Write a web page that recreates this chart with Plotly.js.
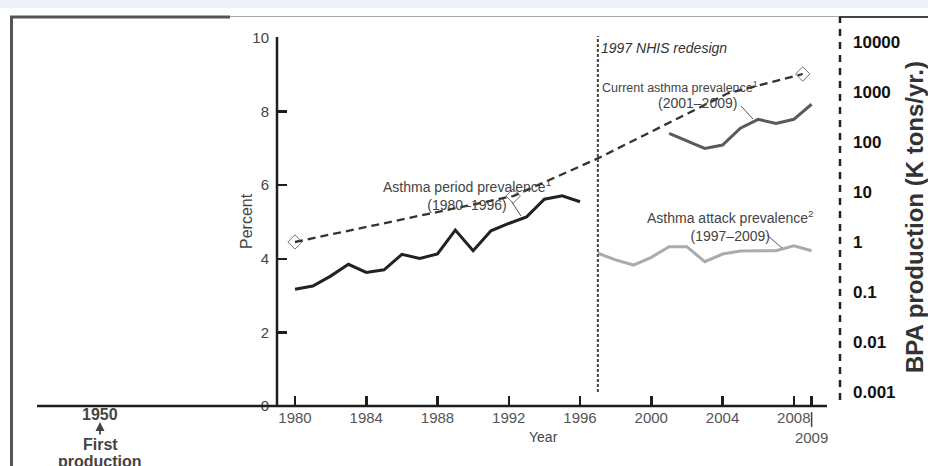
<!DOCTYPE html>
<html>
<head>
<meta charset="utf-8">
<script src="https://cdn.plot.ly/plotly-3.0.1.min.js"></script>
<style>
  html, body { margin: 0; padding: 0; background: #ffffff; }
  #chart { width: 928px; height: 466px; }
</style>
</head>
<body>
<div id="chart"></div>
<script>
// ---- data ----
const periodYears = [1980,1981,1982,1983,1984,1985,1986,1987,1988,1989,1990,1991,1992,1993,1994,1995,1996];
const periodPrev  = [3.17,3.26,3.53,3.85,3.63,3.70,4.12,4.01,4.13,4.78,4.22,4.76,4.96,5.14,5.62,5.71,5.55];

const currentYears = [2001,2002,2003,2004,2005,2006,2007,2008,2009];
const currentPrev  = [7.41,7.20,7.00,7.09,7.55,7.79,7.68,7.79,8.20];

const attackYears = [1997,1998,1999,2000,2001,2002,2003,2004,2005,2006,2007,2008,2009];
const attackPrev  = [4.15,3.97,3.83,4.04,4.33,4.33,3.92,4.13,4.21,4.21,4.22,4.35,4.22];

const bpaYears  = [1980, 1992.25, 1997, 2004.3, 2008.5];
const bpaKtons  = [1.0, 8.3, 47, 940, 2290];
const bpaDiamond = [true, true, false, false, true];

const xTickVals = [1980,1984,1988,1992,1996,2000,2004,2008,2009];
const xTickText = ['1980','1984','1988','1992','1996','2000','2004','2008','<br>2009'];
const yTickVals = [0,2,4,6,8,10];
const y2TickVals = [0.001,0.01,0.1,1,10,100,1000,10000];
const y2TickText = ['0.001','0.01','0.1','1','10','100','1000','10000'];

// ---- geometry helpers (page pixels -> paper) ----
const W = 928, H = 466;
const px = v => v / W;
const py = v => 1 - v / H;
const FONT = 'Liberation Sans, Arial, sans-serif';

const traces = [
  {x: periodYears, y: periodPrev, type: 'scatter', mode: 'lines',
   line: {color: '#222222', width: 3}},
  {x: currentYears, y: currentPrev, type: 'scatter', mode: 'lines',
   line: {color: '#5a5a5a', width: 3}},
  {x: attackYears, y: attackPrev, type: 'scatter', mode: 'lines',
   line: {color: '#ababab', width: 3}},
  {x: bpaYears, y: bpaKtons, yaxis: 'y2', type: 'scatter', mode: 'lines+markers',
   line: {color: '#333333', width: 2.3, dash: '8px,5px'},
   marker: {symbol: 'diamond-open', size: bpaDiamond.map(d => d ? 11 : 0),
            color: '#333333', line: {width: 1, color: '#333333'}}}
];

const shapes = [
  {type:'rect', xref:'paper', yref:'paper', x0:0, x1:1, y0:py(8), y1:1,
   fillcolor:'#edf1f5', line:{width:0}, layer:'below'},
  {type:'line', xref:'paper', yref:'paper', x0:px(230), x1:px(839), y0:py(16.5), y1:py(16.5),
   line:{color:'#aaaaaa', width:1}},
  {type:'line', xref:'paper', yref:'paper', x0:px(10), x1:px(230), y0:py(17), y1:py(17),
   line:{color:'#555555', width:3}},
  {type:'line', xref:'paper', yref:'paper', x0:px(839), x1:1, y0:py(17), y1:py(17),
   line:{color:'#444444', width:2}},
  {type:'line', xref:'paper', yref:'paper', x0:px(11.5), x1:px(11.5), y0:py(16), y1:0,
   line:{color:'#555555', width:3}},
  {type:'line', xref:'paper', yref:'paper', x0:px(37), x1:px(827), y0:py(406), y1:py(406),
   line:{color:'#1e1e1e', width:2.5}},
  {type:'line', xref:'paper', yref:'paper', x0:px(277), x1:px(277), y0:py(406), y1:py(37),
   line:{color:'#1e1e1e', width:2.5}},
  {type:'line', xref:'x', yref:'paper', x0:1997, x1:1997, y0:py(392), y1:py(36),
   line:{color:'#444444', width:2, dash:'3px,2px'}},
  {type:'line', xref:'paper', yref:'paper', x0:px(840), x1:px(840), y0:py(400), y1:py(17),
   line:{color:'#222222', width:2.5, dash:'7px,6px'}},
  {type:'line', xref:'x', yref:'paper', x0:2009, x1:2009, y0:py(427), y1:py(412),
   line:{color:'#444444', width:1.5}},
  {type:'line', xref:'paper', yref:'paper', x0:px(511.5), x1:px(521), y0:py(201.5), y1:py(216),
   line:{color:'#555555', width:1}},
  {type:'line', xref:'paper', yref:'paper', x0:px(741), x1:px(753), y0:py(106), y1:py(119),
   line:{color:'#555555', width:1}},
  {type:'line', xref:'paper', yref:'paper', x0:px(767), x1:px(782), y0:py(235), y1:py(248),
   line:{color:'#555555', width:1}}
];

function ann(text, x, y, opts) {
  return Object.assign({text: text, xref:'paper', yref:'paper', x: px(x), y: py(y),
    xanchor:'center', yanchor:'middle', showarrow:false,
    font:{family: FONT, size: 14, color:'#444444'}}, opts || {});
}
const boldLeft = {family: FONT, size: 16, color:'#444444', weight:'bold'};

const annotations = [
  ann('Asthma period prevalence<sup>1</sup><br>(1980–1996)', 467, 195),
  ann('Current asthma prevalence<sup>1</sup>', 680, 87, {font:{family: FONT, size: 12.5, color:'#444444'}}),
  ann('(2001–2009)', 697, 103),
  ann('Asthma attack prevalence<sup>2</sup><br>(1997–2009)', 730, 226),
  ann('1997 NHIS redesign', 664, 47.5, {font:{family: FONT, size: 14, color:'#333333', style:'italic'}}),
  ann('Year', 543, 437, {font:{family: FONT, size: 14, color:'#444444'}}),
  ann('Percent', 247, 221, {textangle: -90, font:{family: FONT, size: 16, color:'#444444'}}),
  ann('BPA production (K tons/yr.)', 914, 217, {textangle: -90,
      font:{family: FONT, size: 24, color:'#333333', weight:'bold'}}),
  ann('1950', 100, 414, {font: boldLeft}),
  {text:'', xref:'paper', yref:'paper', x: px(100), y: py(422), ax: 0, ay: 14,
   showarrow: true, arrowhead: 2, arrowsize: 1, arrowwidth: 1.8, arrowcolor: '#444444', standoff: 0},
  ann('First', 100, 444, {font: boldLeft}),
  ann('production', 100, 461, {font: boldLeft})
];

const layout = {
  width: W, height: H,
  margin: {l:0, r:0, t:0, b:0, pad:0},
  paper_bgcolor: '#ffffff', plot_bgcolor: '#ffffff',
  showlegend: false,
  xaxis: {
    domain: [px(277), px(827)],
    range: [1978.99, 2009.864],
    showgrid: false, zeroline: false, showline: false,
    tickmode: 'array', tickvals: xTickVals, ticktext: xTickText, tickangle: 0,
    ticks: 'inside', ticklen: 10, tickwidth: 2.5, tickcolor: '#1e1e1e',
    tickfont: {family: FONT, size: 15, color: '#555555'},
    ticklabelstandoff: 1
  },
  yaxis: {
    domain: [py(406), py(38)],
    range: [0, 10],
    showgrid: false, zeroline: false, showline: false,
    tickmode: 'array', tickvals: yTickVals,
    ticks: 'inside', ticklen: 10, tickwidth: 2.5, tickcolor: '#1e1e1e',
    tickfont: {family: FONT, size: 15, color: '#444444'},
    ticklabelstandoff: 7
  },
  yaxis2: {
    type: 'log', overlaying: 'y', anchor: 'free', position: px(840), side: 'right',
    range: [-3.28, 4.08],
    showgrid: false, zeroline: false, showline: false,
    tickmode: 'array', tickvals: y2TickVals, ticktext: y2TickText,
    ticks: '', ticklen: 0,
    tickfont: {family: FONT, size: 17, color: '#111111', weight: 'bold'},
    ticklabelstandoff: 12
  },
  shapes: shapes,
  annotations: annotations
};

Plotly.newPlot('chart', traces, layout, {staticPlot: true, displayModeBar: false});
</script>
</body>
</html>
